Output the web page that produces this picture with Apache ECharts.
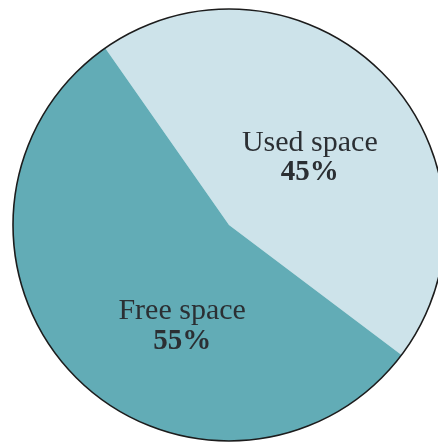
<!DOCTYPE html>
<html>
<head>
<meta charset="utf-8">
<script src="https://cdn.jsdelivr.net/npm/echarts@6/dist/echarts.min.js"></script>
<style>
  html, body { margin: 0; padding: 0; background: #fff; }
  #main { width: 438px; height: 442px; }
</style>
</head>
<body>
<div id="main"></div>
<script>
// slices of the disk
var names = ['Used space', 'Free space'];
var values = [45, 55];
var colors = ['#cde3ea', '#62acb6'];
var offsets = [[1, 10], [33, 24]];

var chart = echarts.init(document.getElementById('main'));

var pieData = [];
for (var i = 0; i < names.length; i++) {
  pieData.push({
    name: names[i],
    value: values[i],
    itemStyle: { color: colors[i] },
    label: { offset: offsets[i] }
  });
}

var option = {
  backgroundColor: '#fff',
  animation: false,
  series: [{
    type: 'pie',
    center: [229, 225],
    radius: [0, 216],
    startAngle: 125,
    clockwise: true,
    avoidLabelOverlap: false,
    itemStyle: { borderWidth: 0 },
    label: {
      show: true,
      position: 'inside',
      formatter: '{n|{b}}\n{p|{d}%}',
      rich: {
        n: {
          fontFamily: 'Liberation Serif',
          fontSize: 30,
          color: '#2b2f33',
          lineHeight: 30,
          align: 'center'
        },
        p: {
          fontFamily: 'Liberation Serif',
          fontSize: 29,
          fontWeight: 'bold',
          color: '#2b2f33',
          lineHeight: 30,
          align: 'center'
        }
      }
    },
    labelLine: { show: false },
    data: pieData
  }, {
    // outline of the disk
    type: 'pie',
    silent: true,
    center: [229, 225],
    radius: [0, 216],
    label: { show: false },
    labelLine: { show: false },
    itemStyle: { color: 'rgba(0,0,0,0)', borderColor: '#1c1c1c', borderWidth: 1.6 },
    data: [{ name: 'outline', value: 1 }]
  }]
};

chart.setOption(option);
</script>
</body>
</html>
